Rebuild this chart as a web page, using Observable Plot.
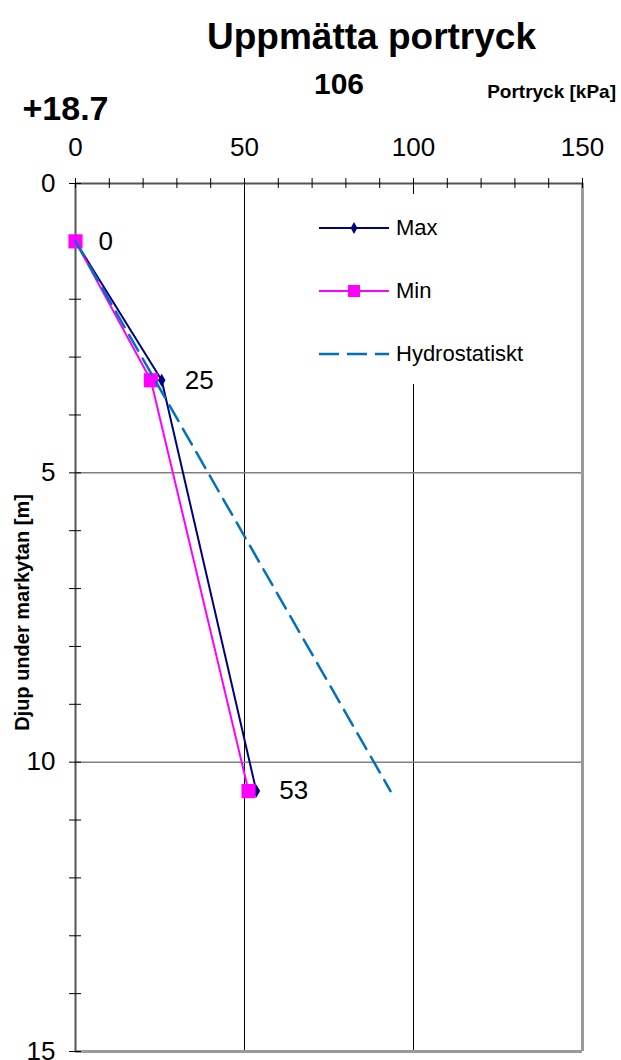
<!DOCTYPE html>
<html><head><meta charset="utf-8">
<script src="https://cdn.jsdelivr.net/npm/d3@7"></script>
<script src="https://cdn.jsdelivr.net/npm/@observablehq/plot@0.6"></script>
<style>
body{margin:0;background:#fff;font-family:"Liberation Sans",Arial,sans-serif;}
#wrap{position:relative;width:621px;height:1060px;}
#legend{position:absolute;left:305px;top:194px;width:268px;height:190px;background:#fff;}
.item{position:absolute;left:14px;height:24px;display:flex;align-items:center;}
.item span{font-size:22px;margin-left:7px;color:#000;}
</style></head><body><div id="wrap"></div>
<script>
const depth = [1.0, 3.4, 10.5];
const maxValues = [0, 25.5, 53.5];
const minValues = [0, 22.3, 51.2];
const pointLabels = ["0", "25", "53"];
const hydroDepth = [1.0, 10.5];
const hydroValues = [0, 93.2];
const xTicks = [0, 50, 100, 150];
const yTicks = [0, 5, 10, 15];
const xMinorTicks = d3.range(0, 151, 10);
const yMinorTicks = d3.range(0, 16, 1);
const seriesNames = ["Max", "Min", "Hydrostatiskt"];
const colors = ["#000080", "#ff00ff", "#0070c0"];
const titleText = "Uppmätta portryck";
const subtitleText = "106";
const levelText = "+18.7";
const xLabelText = "Portryck [kPa]";
const yLabelText = "Djup under markytan [m]";

const maxData = depth.map((d, i) => ({depth: d, value: maxValues[i], label: pointLabels[i]}));
const minData = depth.map((d, i) => ({depth: d, value: minValues[i]}));
const hydroData = hydroDepth.map((d, i) => ({depth: d, value: hydroValues[i]}));

const chart = Plot.plot({
  width: 621,
  height: 1060,
  marginTop: 183,
  marginLeft: 75,
  marginRight: 39,
  marginBottom: 9,
  style: {fontFamily: "'Liberation Sans', Arial, sans-serif", background: "#fff", overflow: "visible"},
  x: {domain: [0, 150], axis: null},
  y: {domain: [0, 15], reverse: true, axis: null},
  marks: [
    Plot.ruleX([50, 100], {stroke: "#000", strokeWidth: 1}),
    Plot.ruleY([5, 10], {stroke: "#808080", strokeWidth: 1.5}),
    Plot.ruleX([150], {stroke: "#9a9a9a", strokeWidth: 3}),
    Plot.ruleY([15], {stroke: "#9a9a9a", strokeWidth: 3}),
    Plot.ruleX([0], {stroke: "#555", strokeWidth: 2}),
    Plot.ruleY([0], {stroke: "#555", strokeWidth: 2}),
    Plot.ruleX(xMinorTicks, {x: d => d, y1: 0, y2: 0, insetTop: -5, insetBottom: -5, stroke: "#000", strokeWidth: 1}),
    Plot.ruleY(yMinorTicks, {y: d => d, x1: 0, x2: 0, insetLeft: -6, insetRight: -6, stroke: "#000", strokeWidth: 1}),
    Plot.axisX({anchor: "top", ticks: xTicks, tickSize: 0, tickPadding: 28, fontSize: 26, label: null, tickFormat: d => String(d)}),
    Plot.axisY({anchor: "left", ticks: yTicks, tickSize: 0, tickPadding: 20, fontSize: 26, label: null, tickFormat: d => String(d)}),
    Plot.line(maxData, {x: "value", y: "depth", stroke: colors[0], strokeWidth: 2}),
    Plot.dot(maxData, {x: "value", y: "depth", symbol: "diamond", r: 4, fill: colors[0], stroke: "none"}),
    Plot.line(minData, {x: "value", y: "depth", stroke: colors[1], strokeWidth: 2}),
    Plot.dot(minData, {x: "value", y: "depth", symbol: "square", r: 8, fill: colors[1], stroke: "none"}),
    Plot.line(hydroData, {x: "value", y: "depth", stroke: colors[2], strokeWidth: 2.5, strokeDasharray: "18,9"}),
    Plot.text(maxData, {x: "value", y: "depth", text: "label", dx: 23, textAnchor: "start", fontSize: 26, fill: "#000"}),
    Plot.text([titleText], {frameAnchor: "top", text: d => d, dx: 42.5, dy: -135, lineAnchor: "bottom", fontSize: 37, fontWeight: "bold", fill: "#000"}),
    Plot.text([subtitleText], {frameAnchor: "top", text: d => d, dx: 10, dy: -90, lineAnchor: "bottom", fontSize: 30, fontWeight: "bold", fill: "#000"}),
    Plot.text([xLabelText], {frameAnchor: "top", text: d => d, dx: 287, dy: -86, lineAnchor: "bottom", textAnchor: "end", fontSize: 19, fontWeight: "bold", fill: "#000"}),
    Plot.text([levelText], {frameAnchor: "top-left", text: d => d, dx: -53, dy: -64, lineAnchor: "bottom", textAnchor: "start", fontSize: 34, fontWeight: "bold", fill: "#000"}),
    Plot.text([yLabelText], {frameAnchor: "left", text: d => d, dx: -53, dy: -5, rotate: -90, textAnchor: "middle", fontSize: 20, fontWeight: "bold", fill: "#000"})
  ]
});

const wrap = document.getElementById("wrap");
wrap.appendChild(chart);

// Legend
const legend = document.createElement("div");
legend.id = "legend";
const itemTops = [22, 85, 148];
seriesNames.forEach((name, i) => {
  const item = document.createElement("div");
  item.className = "item";
  item.style.top = itemTops[i] + "px";
  const sw = d3.create("svg").attr("width", 70).attr("height", 24);
  sw.append("line").attr("x1", 0).attr("x2", 70).attr("y1", 12).attr("y2", 12)
    .attr("stroke", colors[i]).attr("stroke-width", i === 2 ? 2.5 : 2)
    .attr("stroke-dasharray", i === 2 ? "20,8" : null);
  if (i === 0) sw.append("path").attr("d", d3.symbol(d3.symbolDiamond, 40)()).attr("transform", "translate(35,12)").attr("fill", colors[0]);
  if (i === 1) sw.append("rect").attr("x", 29).attr("y", 6).attr("width", 12).attr("height", 12).attr("fill", colors[1]);
  item.appendChild(sw.node());
  const sp = document.createElement("span");
  sp.textContent = name;
  item.appendChild(sp);
  legend.appendChild(item);
});
wrap.appendChild(legend);
</script>
</body></html>
